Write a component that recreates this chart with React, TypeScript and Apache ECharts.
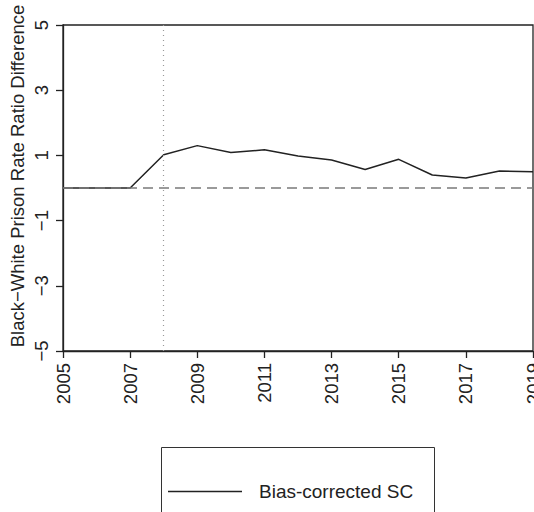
import React, { useEffect, useRef } from "react";
import * as echarts from "echarts";

const years = [2005, 2006, 2007, 2008, 2009, 2010, 2011, 2012, 2013, 2014, 2015, 2016, 2017, 2018, 2019];
const values = [0, 0, 0, 1.02, 1.3, 1.09, 1.17, 0.98, 0.86, 0.57, 0.88, 0.4, 0.31, 0.52, 0.5];
const xTicks = [2005, 2007, 2009, 2011, 2013, 2015, 2017, 2019];
const yTicks = [-5, -3, -1, 1, 3, 5];
const treatmentYear = 2008;
const seriesName = "Bias-corrected SC";
const yTitle = "Black\u2212White Prison Rate Ratio Difference";

const FONT = "'Liberation Sans', Arial, Helvetica, sans-serif";
const INK = "#222222";

export default function App() {
  const ref = useRef<HTMLDivElement>(null);
  useEffect(() => {
    if (!ref.current) return;
    const chart = echarts.init(ref.current, null, { renderer: "svg" });
    chart.setOption({
      animation: false,
      backgroundColor: "#ffffff",
      textStyle: { fontFamily: FONT },
      grid: {
        left: 63,
        top: 25,
        right: 1,
        bottom: 161,
        show: true,
        borderColor: INK,
        borderWidth: 1.3,
        containLabel: false,
        outerBoundsMode: "none",
      },
      xAxis: {
        type: "value",
        min: 2005,
        max: 2019,
        axisLine: { show: true, onZero: false, lineStyle: { color: INK, width: 1.3 } },
        axisTick: {
          show: true,
          length: 7,
          customValues: xTicks,
          lineStyle: { color: INK, width: 1.3 },
        },
        axisLabel: {
          customValues: xTicks,
          rotate: 90,
          margin: 12,
          fontSize: 18.5,
          color: INK,
          fontFamily: FONT,
          hideOverlap: false,
          formatter: (v: number) => String(v),
        },
        splitLine: { show: false },
      },
      yAxis: {
        type: "value",
        min: -5,
        max: 5,
        axisLine: { show: true, onZero: false, lineStyle: { color: INK, width: 1.3 } },
        axisTick: {
          show: true,
          length: 7,
          customValues: yTicks,
          lineStyle: { color: INK, width: 1.3 },
        },
        axisLabel: {
          customValues: yTicks,
          rotate: 90,
          margin: 12,
          fontSize: 18.5,
          color: INK,
          fontFamily: FONT,
          formatter: (v: number) => String(v).replace("-", "\u2212"),
        },
        splitLine: { show: false },
      },
      legend: {
        data: [{ name: seriesName, icon: "rect" }],
        left: 163,
        top: 477,
        itemWidth: 74,
        itemHeight: 1.5,
        itemStyle: { color: INK },
        textStyle: {
          fontSize: 19,
          color: INK,
          fontFamily: FONT,
          padding: [0, 0, 0, 12],
        },
      },
      graphic: [
        {
          type: "text",
          x: 17,
          y: 176,
          rotation: Math.PI / 2,
          style: {
            text: yTitle,
            fontSize: 18.5,
            fontFamily: FONT,
            fill: INK,
            align: "center",
            verticalAlign: "middle",
          },
        },
        {
          type: "rect",
          shape: { x: 161.5, y: 447.5, width: 273, height: 100 },
          style: { fill: "none", stroke: "#333333", lineWidth: 1 },
        },
      ],
      series: [
        {
          name: "refs",
          type: "line",
          data: [],
          z: 1,
          silent: true,
          markLine: {
            silent: true,
            symbol: "none",
            label: { show: false },
            data: [
              {
                xAxis: treatmentYear,
                lineStyle: { color: "#999999", type: [1, 4], width: 1.2 },
              },
              {
                yAxis: 0,
                lineStyle: { color: "#7a7a7a", type: [10, 6], width: 1.6 },
              },
            ],
          },
        },
        {
          name: seriesName,
          type: "line",
          z: 3,
          data: years.map((y, i) => [y, values[i]]),
          symbol: "none",
          lineStyle: { color: INK, width: 1.5 },
          itemStyle: { color: INK },
        },
      ],
    });
    return () => chart.dispose();
  }, []);
  return (
    <div
      ref={ref}
      style={{ position: "fixed", left: 0, top: 0, width: 534, height: 512 }}
    />
  );
}
